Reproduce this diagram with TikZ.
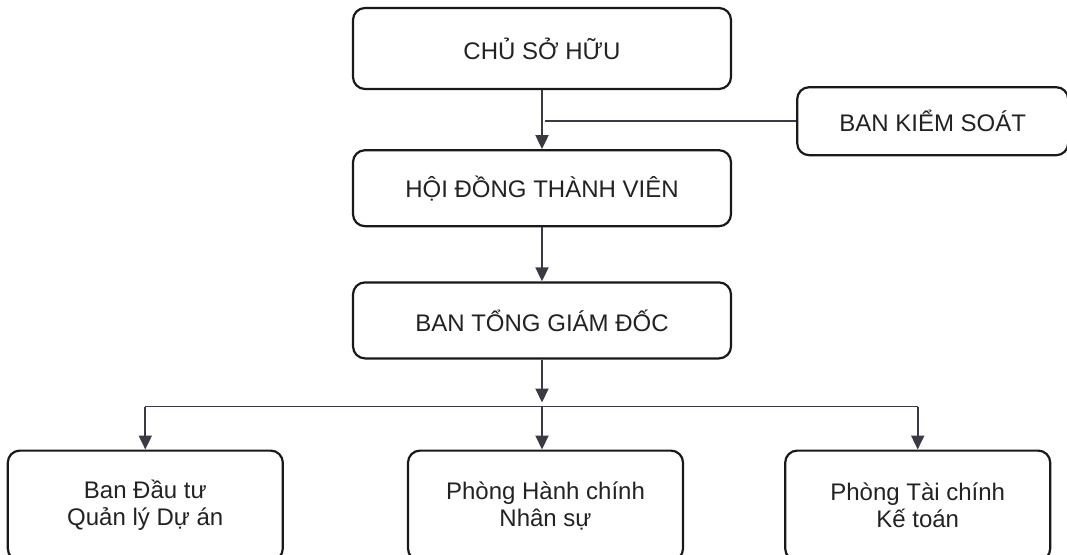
\documentclass[tikz,border=0pt]{standalone}
\usepackage{fontspec}
\setmainfont{Liberation Sans}
\usetikzlibrary{arrows.meta, positioning}
\definecolor{linegray}{HTML}{3A3A44}
\definecolor{textgray}{HTML}{222222}
\tikzstyle{unit} = [rectangle, rounded corners=12pt, draw=black!90, line width=2.2pt, align=center, inner sep=0pt, text=textgray, font=\fontsize{24}{27}\selectfont]
\tikzstyle{topunit} = [unit, minimum width=378pt, minimum height=76pt]
\tikzstyle{dept} = [unit, minimum width=275pt, minimum height=110pt]
\tikzstyle{arrow} = [line width=2pt, draw=linegray, -{Triangle[length=14pt,width=13pt]}]
\tikzstyle{link} = [line width=1.8pt, draw=linegray]

\begin{document}
\begin{tikzpicture}[x=1pt, y=1pt]
    \useasboundingbox (0,0) rectangle (1067,-554);

    % Nodes
    \node (owner) [topunit, minimum height=81pt] at (542,-48.5) {CHỦ SỞ HỮU};
    \node (board) [topunit, below=59pt of owner] {HỘI ĐỒNG THÀNH VIÊN};
    \node (ceo) [topunit, below=54pt of board] {BAN TỔNG GIÁM ĐỐC};
    \node (control) [unit, minimum width=271pt, minimum height=68pt, below right=-4pt and 64pt of owner] {BAN KIỂM SOÁT};

    \node (hr) [dept, below=90pt of ceo, xshift=3.5pt] {Phòng Hành chính\\Nhân sự};
    \node (invest) [dept, left=123pt of hr] {Ban Đầu tư\\Quản lý Dự án};
    \node (finance) [dept, right=100pt of hr, minimum width=265pt] {Phòng Tài chính\\Kế toán};

    \coordinate (tap) at ([xshift=3pt]owner.south |- control.west);
    \coordinate (bus) at ([yshift=-47pt]ceo.south);

    % Arrows
    \draw [arrow] (owner) -- (board);
    \draw [link] (control.west) -- (tap);
    \draw [arrow] (board) -- (ceo);
    \draw [arrow, shorten >=4pt] (ceo) -- (bus);

    \draw [link] (invest |- bus) -- (finance |- bus);
    \draw [arrow] (invest |- bus) -- (invest);
    \draw [arrow] (bus) -- (bus |- hr.north);
    \draw [arrow] (finance |- bus) -- (finance);

\end{tikzpicture}
\end{document}
